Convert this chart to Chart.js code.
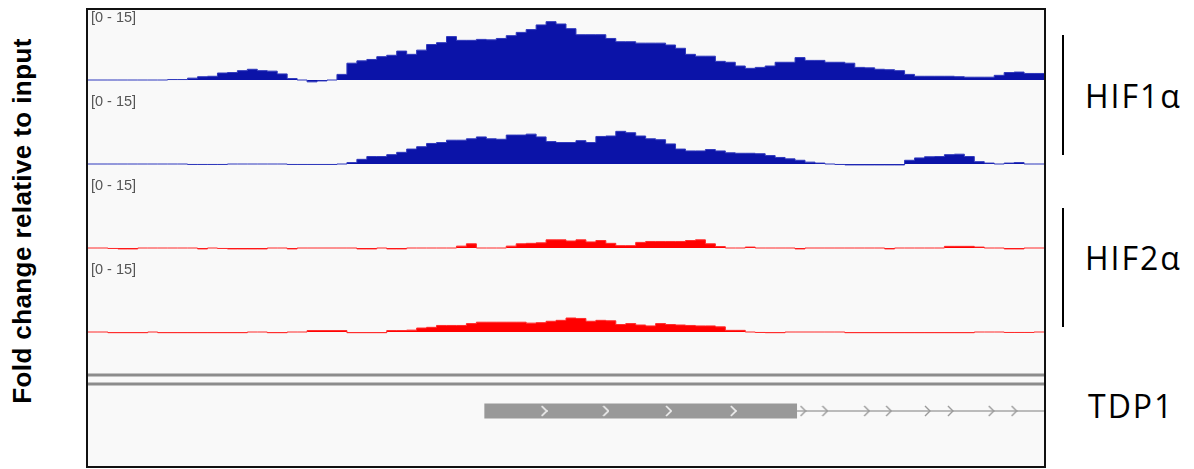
<!DOCTYPE html>
<html lang="en">
<head>
<meta charset="UTF-8">
<title>HIF1a / HIF2a ChIP-seq at TDP1</title>
<script src="https://cdn.jsdelivr.net/npm/chart.js"></script>
<style>
  body {
    margin: 0;
    width: 1194px;
    height: 469px;
    position: relative;
    overflow: hidden;
    background: #fff;
    font-family: "Liberation Sans", Arial, sans-serif;
  }
  #panel {
    position: absolute;
    left: 86px;
    top: 8px;
    width: 956px;
    height: 456px;
    border: 2px solid #111;
    background: #f9f9f9;
  }
  #panel canvas { position: absolute; left: 0; }
  .range { position: absolute; left: 3px; font-size: 14.5px; color: #555; line-height: 15px; }
  .ytitle {
    position: absolute; left: 22px; top: 221px;
    transform: translate(-50%, -50%) rotate(-90deg);
    font-weight: bold; font-size: 26px; letter-spacing: 0.4px; white-space: nowrap; color: #000;
  }
  .bar { position: absolute; left: 1062px; width: 2px; background: #000; }
  .name { position: absolute; font-family: "Open Sans", sans-serif; font-size: 32px; line-height: 32px; letter-spacing: 2px; color: #000; }
</style>
</head>
<body>
<div class="ytitle">Fold change relative to input</div>
<div id="panel">
  <canvas id="t1" width="956" height="84" style="top:0px"></canvas>
  <canvas id="t2" width="956" height="84" style="top:84px"></canvas>
  <canvas id="t3" width="956" height="84" style="top:168px"></canvas>
  <canvas id="t4" width="956" height="84" style="top:252px"></canvas>
  <canvas id="gene" width="956" height="120" style="top:336px"></canvas>
  <div class="range" style="top:0px">[0 - 15]</div>
  <div class="range" style="top:84px">[0 - 15]</div>
  <div class="range" style="top:168px">[0 - 15]</div>
  <div class="range" style="top:252px">[0 - 15]</div>
</div>
<div class="bar" style="top:35px;height:120px"></div>
<div class="bar" style="top:208px;height:119px"></div>
<div class="name" style="left:1085px;top:80px">HIF1α</div>
<div class="name" style="left:1085px;top:242px">HIF2α</div>
<div class="name" style="left:1088px;top:390px">TDP1</div>
<script>
// fold change per bin (96 bins across the window), range 0 - 15
const hif1aRep1 = [
  0, 0, 0, 0, 0, 0, 0, 0, 0.1, 0.1,
  0.4, 0.7, 0.8, 1.5, 1.6, 2.0, 2.3, 2.0, 1.9, 1.3,
  0.3, 0, -0.4, -0.2, 0, 1.2, 3.6, 4.1, 4.4, 5.0,
  5.3, 6.2, 5.5, 6.4, 7.6, 8.0, 9.3, 8.5, 8.5, 8.7,
  8.6, 8.9, 9.5, 10.2, 10.8, 11.8, 12.5, 12.0, 11.0, 9.7,
  9.7, 9.7, 8.9, 8.2, 8.2, 7.9, 7.9, 7.9, 7.5, 6.8,
  5.5, 5.1, 5.1, 4.0, 3.8, 3.0, 2.5, 2.7, 3.0, 3.8,
  3.8, 4.8, 4.2, 4.2, 3.8, 3.8, 3.6, 2.7, 2.6, 2.3,
  2.2, 2.0, 1.2, 0.8, 0.8, 0.8, 0.8, 0.7, 0.6, 0.6,
  0.6, 1.0, 1.6, 1.7, 1.4, 1.4
];
const hif1aRep2 = [
  0, 0, 0, 0, 0, 0, 0, 0, 0, 0,
  -0.1, -0.1, -0.1, -0.1, 0, 0, 0, 0, 0, 0,
  -0.1, -0.1, -0.1, -0.1, -0.1, 0, 0.3, 1.0, 1.6, 1.6,
  2.0, 2.5, 3.2, 3.7, 4.4, 4.6, 5.1, 5.1, 5.4, 5.8,
  5.4, 5.3, 6.2, 6.2, 6.4, 5.8, 4.8, 4.6, 4.6, 5.0,
  4.6, 5.9, 6.0, 7.0, 6.7, 6.0, 5.4, 5.2, 4.3, 3.2,
  2.8, 2.8, 3.1, 2.8, 2.4, 2.3, 2.3, 2.2, 1.8, 1.4,
  1.1, 0.8, 0.4, 0.2, 0, -0.1, -0.2, -0.2, -0.2, -0.2,
  -0.2, -0.2, 0.8, 1.3, 1.55, 1.6, 2.0, 2.1, 1.6, 0.5,
  0.2, 0, 0.2, 0.3, 0, 0
];
const hif2aRep1 = [
  0, 0, -0.1, -0.2, -0.2, 0, 0, 0, 0, 0,
  0, -0.2, 0, -0.1, -0.2, -0.2, -0.2, -0.2, 0, 0,
  -0.2, 0, 0, 0, 0, 0, 0, -0.2, -0.2, 0,
  -0.2, -0.2, 0, 0, 0, 0, 0, 0.4, 0.9, 0,
  0, 0, 0.4, 0.9, 1.0, 1.1, 1.75, 1.75, 1.5, 1.75,
  1.3, 1.6, 1.0, 0.5, 0.5, 1.2, 1.4, 1.4, 1.4, 1.4,
  1.6, 1.75, 0.9, 0.3, 0, 0, 0.2, 0, 0, 0,
  0, -0.2, 0, 0, 0, 0, 0, 0, 0, 0,
  -0.2, 0, 0, 0, 0, 0, 0.35, 0.35, 0.35, 0.2,
  0, 0, -0.2, -0.2, 0, 0
];
const hif2aRep2 = [
  0, 0, -0.15, -0.15, -0.15, -0.15, 0, -0.15, -0.15, -0.15,
  -0.15, -0.15, -0.15, -0.15, -0.15, -0.15, 0, 0, -0.15, -0.15,
  0, 0, 0.3, 0.3, 0.3, 0.3, -0.15, -0.15, -0.15, -0.15,
  0.3, 0.3, 0.4, 0.85, 1.0, 1.4, 1.4, 1.4, 1.8, 2.1,
  2.1, 2.1, 2.1, 2.1, 1.9, 2.0, 2.3, 2.5, 3.0, 2.9,
  2.3, 2.5, 2.4, 1.6, 1.8, 1.5, 1.3, 1.8, 1.6, 1.5,
  1.4, 1.3, 1.3, 1.1, 0.35, 0.35, 0, -0.1, -0.15, -0.15,
  0, 0, 0, 0, 0, 0, -0.15, -0.15, -0.15, -0.15,
  -0.15, -0.15, -0.15, -0.15, -0.15, -0.15, -0.15, -0.15, -0.15, 0,
  0, 0, -0.1, -0.1, -0.1, 0
];

// TDP1 gene model, in bin coordinates
const exonStart = 39.8;
const exonEnd = 71.2;
const geneEnd = 96;
const exonArrows = [45.8, 52.0, 58.3, 64.8];
const intronArrows = [71.8, 74.0, 78.2, 80.4, 84.3, 86.6, 90.7, 93.0];

const NBINS = 96;

function baseOptions(ymin, ymax, reverse) {
  return {
    responsive: false,
    animation: false,
    events: [],
    layout: { padding: 0, autoPadding: false },
    plugins: { legend: { display: false }, tooltip: { enabled: false } },
    scales: {
      x: { type: 'linear', min: 0, max: NBINS, display: false },
      y: { min: ymin, max: ymax, reverse: reverse, display: false }
    }
  };
}

function trackChart(id, values, fill, line) {
  // bin k spans [k, k+1]; extra point closes the last bin
  const pts = values.map((v, i) => ({ x: i, y: v }));
  pts.push({ x: values.length, y: values[values.length - 1] });
  new Chart(document.getElementById(id), {
    type: 'line',
    data: {
      datasets: [{
        data: pts,
        stepped: 'before',
        fill: 'origin',
        backgroundColor: fill,
        borderColor: line,
        borderWidth: 1,
        pointRadius: 0
      }]
    },
    options: baseOptions(-3, 15, false)
  });
}

trackChart('t1', hif1aRep1, '#0b13a8', '#2f38bd');
trackChart('t2', hif1aRep2, '#0b13a8', '#2f38bd');
trackChart('t3', hif2aRep1, '#ff0000', '#ff2a2a');
trackChart('t4', hif2aRep2, '#ff0000', '#ff2a2a');

function chevron(color, w, h, lw) {
  const c = document.createElement('canvas');
  c.width = w + 2;
  c.height = h + 2;
  const g = c.getContext('2d');
  g.strokeStyle = color;
  g.lineWidth = lw;
  g.beginPath();
  g.moveTo(1, 1);
  g.lineTo(w + 1, h / 2 + 1);
  g.lineTo(1, h + 1);
  g.stroke();
  return c;
}

const rowRuler1 = 29, rowRuler2 = 38, rowGene = 65;
const seg = (a, b, y) => [{ x: a, y: y }, { x: b, y: y }];

new Chart(document.getElementById('gene'), {
  type: 'line',
  data: {
    datasets: [
      { data: exonArrows.map(x => ({ x: x, y: rowGene })), showLine: false,
        pointStyle: chevron('#f2f2f2', 5, 10, 1.6), pointRadius: 6 },
      { data: intronArrows.map(x => ({ x: x, y: rowGene })), showLine: false,
        pointStyle: chevron('#999999', 5, 10, 1.4), pointRadius: 6 },
      { data: seg(exonStart, exonEnd, rowGene), borderColor: '#999999', borderWidth: 15,
        borderCapStyle: 'butt', pointRadius: 0 },
      { data: seg(exonEnd, geneEnd, rowGene), borderColor: '#a6a6a6', borderWidth: 1.5, pointRadius: 0 },
      { data: seg(0, NBINS, rowRuler1), borderColor: '#8c8c8c', borderWidth: 3, pointRadius: 0 },
      { data: seg(0, NBINS, rowRuler2), borderColor: '#8c8c8c', borderWidth: 3, pointRadius: 0 }
    ]
  },
  options: baseOptions(0, 120, true)
});
</script>
</body>
</html>
